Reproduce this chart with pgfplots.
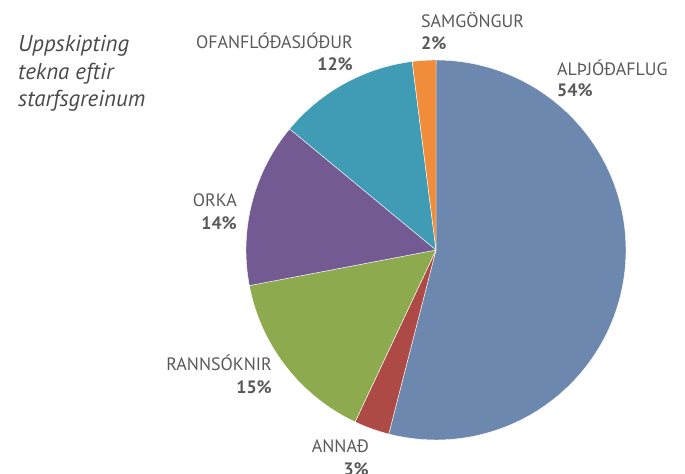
\documentclass[border=0pt]{standalone}
\usepackage{fontspec}
\setmainfont{PT Sans}
\newfontfamily\lblfont{PT Sans}
\usepackage{pgfplots}
\pgfplotsset{compat=1.18}
\definecolor{cBlue}{HTML}{6C88AE}
\definecolor{cRed}{HTML}{AE4A45}
\definecolor{cGreen}{HTML}{8EAA4F}
\definecolor{cPurple}{HTML}{745A93}
\definecolor{cTeal}{HTML}{409BB4}
\definecolor{cOrange}{HTML}{F08C3A}
\definecolor{txt}{HTML}{595959}
\definecolor{ttl}{HTML}{4A4A4A}
% shares (percent), clockwise from 12 o'clock
% ALTHJODAFLUG 54, ANNAD 3, RANNSOKNIR 15, ORKA 14, OFANFLODASJODUR 12, SAMGONGUR 2
\begin{document}
\begin{tikzpicture}
\useasboundingbox (0,0) rectangle (685bp,474bp);
\clip (0,0) rectangle (685bp,474bp);
\begin{axis}[
  at={(0,0)}, anchor=south west,
  scale only axis, width=685bp, height=474bp,
  xmin=0, xmax=685, ymin=0, ymax=474,
  hide axis, clip=false,
]
\pgfplotsset{wedge/.style={draw=white, line width=0.4pt, samples=80, variable=\t}}
% cumulative angles: start 90 deg, each percent = 3.6 deg clockwise
\addplot[wedge, fill=cBlue,   domain={90-3.6*54}:{90}]            ({436+190*cos(t)},{224+190*sin(t)}) -- (axis cs:436,224) -- cycle;
\addplot[wedge, fill=cRed,    domain={90-3.6*57}:{90-3.6*54}]     ({436+190*cos(t)},{224+190*sin(t)}) -- (axis cs:436,224) -- cycle;
\addplot[wedge, fill=cGreen,  domain={90-3.6*72}:{90-3.6*57}]     ({436+190*cos(t)},{224+190*sin(t)}) -- (axis cs:436,224) -- cycle;
\addplot[wedge, fill=cPurple, domain={90-3.6*86}:{90-3.6*72}]     ({436+190*cos(t)},{224+190*sin(t)}) -- (axis cs:436,224) -- cycle;
\addplot[wedge, fill=cTeal,   domain={90-3.6*98}:{90-3.6*86}]     ({436+190*cos(t)},{224+190*sin(t)}) -- (axis cs:436,224) -- cycle;
\addplot[wedge, fill=cOrange, domain={90-3.6*100}:{90-3.6*98}]    ({436+190*cos(t)},{224+190*sin(t)}) -- (axis cs:436,224) -- cycle;

\tikzset{lbl/.style={inner sep=0pt, text=txt, font=\lblfont\fontsize{18}{21}\selectfont},
         pct/.style={inner sep=0pt, text=txt, font=\lblfont\bfseries\fontsize{18}{21}\selectfont},
         ttlf/.style={inner sep=0pt, anchor=base west, text=ttl, font=\itshape\fontsize{23}{27}\selectfont}}

\node[ttlf] at (axis cs:18,422) {Uppskipting};
\node[ttlf] at (axis cs:18,394) {tekna eftir};
\node[ttlf] at (axis cs:18,367) {starfsgreinum};

\node[lbl, anchor=base west] at (axis cs:421,446) {SAMGÖNGUR};
\node[pct, anchor=base west] at (axis cs:421,424) {2\%};
\node[lbl, anchor=base west] at (axis cs:557,398) {ALÞJÓÐAFLUG};
\node[pct, anchor=base west] at (axis cs:557,377) {54\%};
\node[lbl, anchor=base east] at (axis cs:353,425) {OFANFLÓÐASJÓÐUR};
\node[pct, anchor=base east] at (axis cs:353,403) {12\%};
\node[lbl, anchor=base east] at (axis cs:237,267) {ORKA};
\node[pct, anchor=base east] at (axis cs:237,244) {14\%};
\node[lbl, anchor=base east] at (axis cs:272,103) {RANNSÓKNIR};
\node[pct, anchor=base east] at (axis cs:272,80) {15\%};
\node[lbl, anchor=base east] at (axis cs:369,22) {ANNAÐ};
\node[pct, anchor=base east] at (axis cs:369,-1) {3\%};
\end{axis}
\end{tikzpicture}
\end{document}
